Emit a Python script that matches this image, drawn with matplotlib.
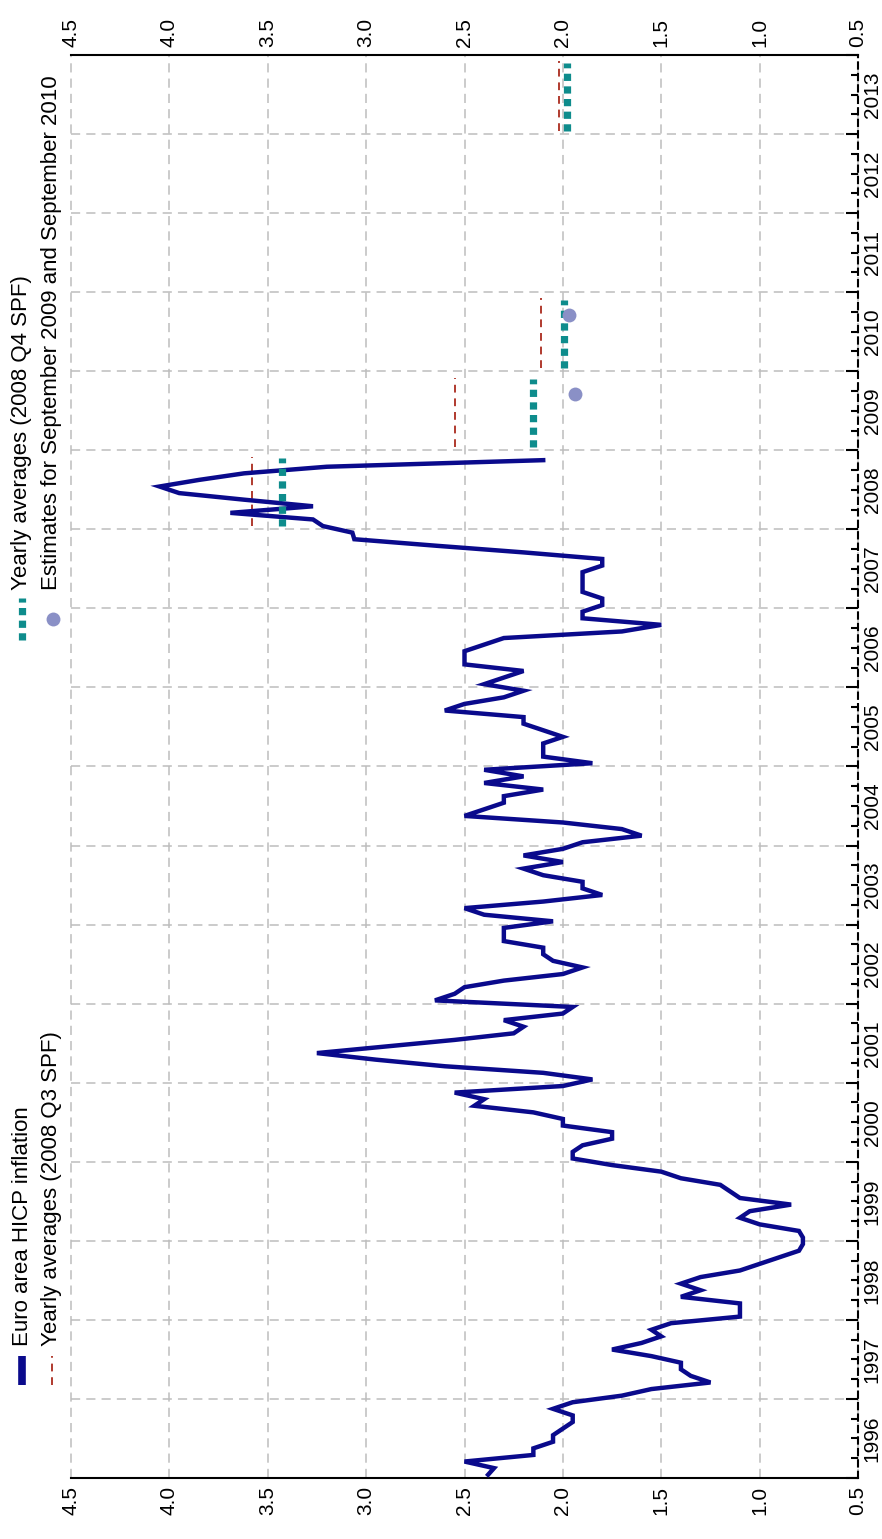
import numpy as np
import matplotlib
matplotlib.use("Agg")
import matplotlib.pyplot as plt
from matplotlib.lines import Line2D
from matplotlib.ticker import MultipleLocator, FixedLocator

plt.rcParams['font.family'] = ['Liberation Sans Narrow', 'Liberation Sans', 'DejaVu Sans']

# --- data ---
# monthly HICP inflation, Jan 1996 .. Nov 2008
hicp_1996 = [2.38, 2.35, 2.5, 2.15, 2.15, 2.05, 2.05, 2.0, 1.95, 1.95, 2.05, 1.95]
hicp_1997 = [1.7, 1.55, 1.25, 1.35, 1.4, 1.4, 1.55, 1.75, 1.6, 1.5, 1.55, 1.45]
hicp_1998 = [1.1, 1.1, 1.1, 1.4, 1.3, 1.4, 1.3, 1.1, 1.0, 0.9, 0.8, 0.78]
hicp_1999 = [0.78, 0.8, 1.0, 1.1, 1.05, 0.84, 1.1, 1.15, 1.2, 1.4, 1.5, 1.75]
hicp_2000 = [1.95, 1.95, 1.9, 1.75, 1.75, 2.0, 2.0, 2.15, 2.45, 2.4, 2.55, 2.0]
hicp_2001 = [1.85, 2.1, 2.6, 2.95, 3.25, 2.9, 2.55, 2.25, 2.2, 2.3, 2.0, 1.95]
hicp_2002 = [2.65, 2.55, 2.5, 2.3, 2.0, 1.9, 2.05, 2.1, 2.1, 2.3, 2.3, 2.3]
hicp_2003 = [2.05, 2.4, 2.5, 2.1, 1.8, 1.9, 1.9, 2.1, 2.2, 2.0, 2.2, 2.0]
hicp_2004 = [1.9, 1.6, 1.7, 2.0, 2.5, 2.4, 2.3, 2.3, 2.1, 2.4, 2.2, 2.4]
hicp_2005 = [1.85, 2.1, 2.1, 2.1, 2.0, 2.1, 2.2, 2.2, 2.6, 2.5, 2.3, 2.2]
hicp_2006 = [2.4, 2.3, 2.2, 2.5, 2.5, 2.5, 2.4, 2.3, 1.7, 1.5, 1.9, 1.9]
hicp_2007 = [1.8, 1.8, 1.9, 1.9, 1.9, 1.9, 1.8, 1.8, 2.2, 2.64, 3.06, 3.07]
hicp_2008 = [3.22, 3.27, 3.69, 3.27, 3.62, 3.95, 4.05, 3.85, 3.62, 3.2, 2.1]

# yearly averages from the two SPF rounds
q3_years = [2008, 2009, 2010, 2013]
q3_values = [3.58, 2.55, 2.11, 2.02]
q4_years = [2008, 2009, 2010, 2013]
q4_values = [3.43, 2.15, 1.995, 1.98]

# estimates for September 2009 and September 2010
est_dates = [2009.71, 2010.71]
est_values = [1.94, 1.97]

year_labels = list(range(1996, 2014))
infl_ticks = [4.5, 4.0, 3.5, 3.0, 2.5, 2.0, 1.5, 1.0, 0.5]

W, H = 882, 1539
NAVY = '#0a0a8c'
RED = '#b03a2e'
TEAL = '#0e8c8c'
DOT = '#8a90c6'
GRID = '#bdbdbd'


def fx(px):
    return px / W


def fy(py):
    return 1 - py / H


hicp = hicp_1996 + hicp_1997 + hicp_1998 + hicp_1999 + hicp_2000 + hicp_2001 + hicp_2002 \
    + hicp_2003 + hicp_2004 + hicp_2005 + hicp_2006 + hicp_2007 + hicp_2008
t = 1996 + (np.arange(len(hicp)) + 0.5) / 12.0

fig = plt.figure(figsize=(W / 100, H / 100), dpi=100)
ax = fig.add_axes([fx(71), fy(1478), fx(858) - fx(71), fy(55) - fy(1478)])

# the chart is drawn turned on its side: inflation runs across, time runs up
ax.set_xlim(4.5, 0.5)
ax.set_ylim(1996, 2014)

for v in infl_ticks:
    ax.axvline(v, color=GRID, lw=1.1, dashes=(6, 4), zorder=1, clip_on=False)
for y in year_labels[1:]:
    ax.axhline(y, color=GRID, lw=1.1, dashes=(6, 4), zorder=1)

ax.plot(hicp, t, color=NAVY, lw=3.2, solid_joinstyle='miter', zorder=4)

for yr, v in zip(q3_years, q3_values):
    ax.plot([v, v], [yr + 0.04, yr + 0.92], color=RED, lw=1.4, dashes=(4, 3), zorder=3)
for yr, v in zip(q4_years, q4_values):
    ax.plot([v, v], [yr + 0.04, yr + 0.9], color=TEAL, lw=5.2, dashes=(1, 0.75),
            solid_capstyle='butt', dash_capstyle='butt', zorder=5)
ax.plot(est_values, est_dates, 'o', color=DOT, ms=10, mec='none', zorder=6)

# spines
ax.spines['left'].set_visible(False)
ax.spines['top'].set_linewidth(1.5)
ax.spines['bottom'].set_linewidth(1.5)
ax.spines['right'].set_linestyle((0, (3, 2.5)))
ax.spines['right'].set_linewidth(1.5)

# inflation ticks on top and bottom
ax.xaxis.set_major_locator(FixedLocator(infl_ticks))
ax.tick_params(axis='x', which='both', top=True, bottom=True, labeltop=True, labelbottom=True,
               length=0, labelsize=15, labelrotation=90, pad=6)
ax.set_xticklabels([f'{v:.1f}' for v in infl_ticks])

# time axis on the right side
ax.yaxis.set_major_locator(MultipleLocator(1))
ax.yaxis.set_minor_locator(MultipleLocator(0.25))
ax.tick_params(axis='y', which='major', left=False, right=True, labelleft=False, labelright=False,
               direction='in', length=9, width=1.5)
ax.tick_params(axis='y', which='minor', left=False, right=True, direction='in', length=5, width=1.5)
for yr in year_labels:
    ax.text(1.006, yr + 0.5, str(yr), transform=ax.get_yaxis_transform(), rotation=90,
            ha='left', va='center', fontsize=15)

# legends, written sideways in the left margin
leg_font = ['Liberation Sans', 'DejaVu Sans']
fig.add_artist(Line2D([fx(22), fx(22)], [fy(1385), fy(1356)], color=NAVY, lw=5.5,
                      solid_capstyle='butt', transform=fig.transFigure))
fig.add_artist(Line2D([fx(52), fx(52)], [fy(1385), fy(1356)], color=RED, lw=1.4, dashes=(4, 3),
                      transform=fig.transFigure))
fig.text(fx(22), fy(1346), 'Euro area HICP inflation', rotation=90, rotation_mode='anchor',
         ha='left', va='center', fontsize=16, family=leg_font)
fig.text(fx(52), fy(1346), 'Yearly averages (2008 Q3 SPF)', rotation=90, rotation_mode='anchor',
         ha='left', va='center', fontsize=16, family=leg_font)

fig.add_artist(Line2D([fx(22), fx(22)], [fy(640), fy(598)], color=TEAL, lw=5.2, dashes=(1, 0.75),
                      solid_capstyle='butt', dash_capstyle='butt', transform=fig.transFigure))
fig.add_artist(Line2D([fx(53)], [fy(619)], marker='o', color=DOT, ms=10, mec='none',
                      transform=fig.transFigure))
fig.text(fx(22), fy(590), 'Yearly averages (2008 Q4 SPF)', rotation=90, rotation_mode='anchor',
         ha='left', va='center', fontsize=16, family=leg_font)
fig.text(fx(52), fy(590), 'Estimates for September 2009 and September 2010', rotation=90,
         rotation_mode='anchor', ha='left', va='center', fontsize=16, family=leg_font)

fig.savefig('out.png', dpi=100)
